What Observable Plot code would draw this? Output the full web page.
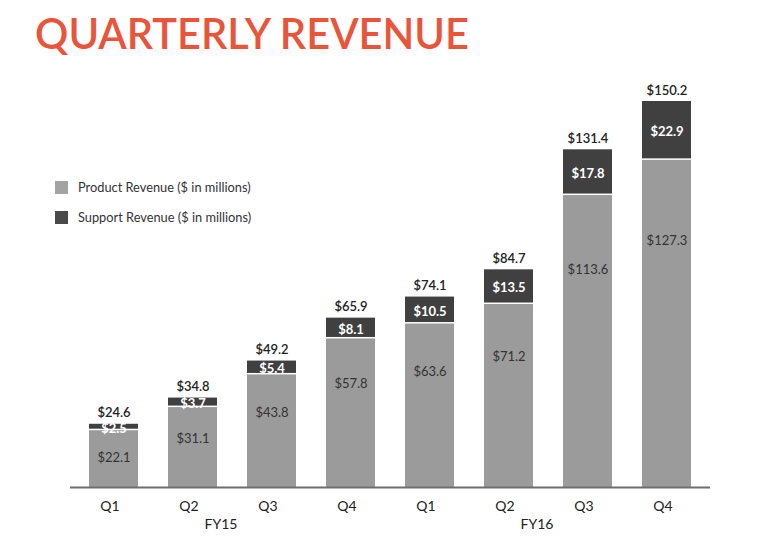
<!DOCTYPE html>
<html>
<head>
<meta charset="utf-8">
<script src="https://cdn.jsdelivr.net/npm/d3@7"></script>
<script src="https://cdn.jsdelivr.net/npm/@observablehq/plot@0.6"></script>
<style>
  html, body { margin: 0; padding: 0; background: #fff; }
  #wrap { position: relative; width: 757px; height: 548px; overflow: hidden; font-family: Lato, "Open Sans", sans-serif; }
  #title { position: absolute; left: 35px; top: 8px; margin: 0; font-size: 41.5px; font-weight: 600; color: #E8553A; letter-spacing: 0px; line-height: 50px; white-space: nowrap; }
  #chart { position: absolute; left: 0; top: 60px; }
  .legend { position: absolute; left: 55px; font-size: 12.8px; color: #333; display: flex; align-items: center; }
  .legend span.sw { display: inline-block; width: 13px; height: 13px; margin-right: 10px; }
</style>
</head>
<body>
<div id="wrap">
  <h1 id="title">QUARTERLY REVENUE</h1>
  <div id="chart"></div>
  <div class="legend" style="top:179px"><span class="sw" style="background:#a3a3a3"></span>Product Revenue ($ in millions)</div>
  <div class="legend" style="top:209px"><span class="sw" style="background:#4a4a4a"></span>Support Revenue ($ in millions)</div>
</div>
<script>
const quarters = ["Q1", "Q2", "Q3", "Q4", "Q1", "Q2", "Q3", "Q4"];
const fiscalYears = ["FY15", "FY15", "FY15", "FY15", "FY16", "FY16", "FY16", "FY16"];
const productRevenue = [22.1, 31.1, 43.8, 57.8, 63.6, 71.2, 113.6, 127.3];
const supportRevenue = [2.5, 3.7, 5.4, 8.1, 10.5, 13.5, 17.8, 22.9];
const totalRevenue = [24.6, 34.8, 49.2, 65.9, 74.1, 84.7, 131.4, 150.2];
const fyLabels = ["FY15", "FY16"];

const rows = quarters.map((q, i) => ({
  key: fiscalYears[i] + " " + q,
  quarter: q,
  fy: fiscalYears[i],
  product: productRevenue[i],
  support: supportRevenue[i],
  total: totalRevenue[i]
}));

const fmt = v => "$" + v.toFixed(1);

const plot = Plot.plot({
  width: 757,
  height: 488,
  marginLeft: 70,
  marginRight: 47,
  marginTop: 41,
  marginBottom: 61,
  style: { fontFamily: "Lato, 'Open Sans', sans-serif", fontSize: "13px", color: "#222", background: "transparent" },
  x: { domain: rows.map(d => d.key), paddingInner: 0.38, paddingOuter: 0.21, label: null },
  y: { domain: [0, d3.max(totalRevenue)], axis: null },
  marks: [
    Plot.barY(rows, { x: "key", y1: 0, y2: "product", fill: "#9b9b9b" }),
    Plot.barY(rows, { x: "key", y1: "product", y2: "total", fill: "#404040", insetBottom: 1.5 }),
    Plot.ruleY([0], { stroke: "#6e6e6e", strokeWidth: 2 }),
    Plot.axisX({ tickSize: 0, tickPadding: 14, tickFormat: k => k.split(" ")[1], fontSize: 14, fill: "#222", dx: -4 }),
    Plot.text(fyLabels, { x: d => d + " Q2", y: 0, dy: 37, dx: 28, text: d => d, fontSize: 14, fill: "#222" }),
    Plot.text(rows, { x: "key", y: "total", text: d => fmt(d.total), dy: -7, lineAnchor: "bottom", fontSize: 13, fontWeight: 600, fill: "#222" }),
    Plot.text(rows, { x: "key", y: d => (d.product + d.total) / 2, text: d => fmt(d.support), fontSize: 13, fontWeight: 700, fill: "white", dy: 1 }),
    Plot.text(rows, { x: "key", y: d => d.product * 0.8 - 6, text: d => fmt(d.product), fontSize: 13, fill: "#333" })
  ]
});
document.getElementById("chart").appendChild(plot);
</script>
</body>
</html>
